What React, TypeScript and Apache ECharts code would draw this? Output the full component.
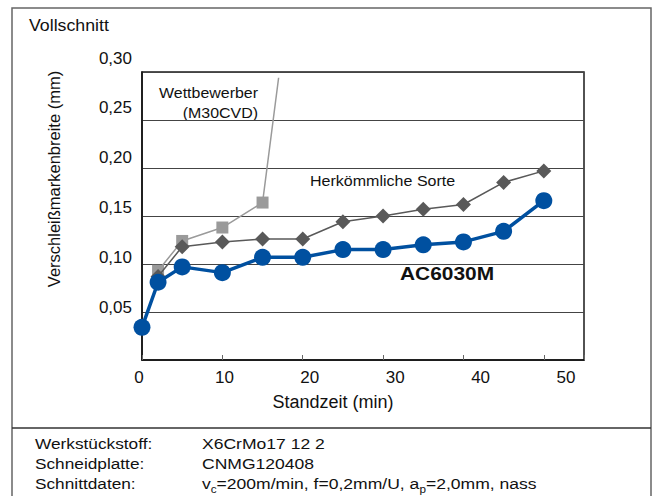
import React, { useEffect, useRef } from "react";
import * as echarts from "echarts";

const FONT = "'Liberation Sans', Arial, Helvetica, sans-serif";

const timesAC = [0, 2, 5, 10, 15, 20, 25, 30, 35, 40, 45, 50];
const wearAC = [0.034, 0.081, 0.097, 0.091, 0.107, 0.107, 0.115, 0.115, 0.12, 0.123, 0.134, 0.166];

const timesHerk = [2, 5, 10, 15, 20, 25, 30, 35, 40, 45, 50];
const wearHerk = [0.087, 0.118, 0.123, 0.126, 0.126, 0.144, 0.15, 0.157, 0.162, 0.185, 0.197];

const timesWett = [2, 5, 10, 15, 17];
const wearWett = [0.093, 0.124, 0.138, 0.164, 0.294];

const xTicks = [0, 10, 20, 30, 40, 50];
const yTicks = [0.05, 0.1, 0.15, 0.2, 0.25, 0.3];

const infoLabels = ["Werkstückstoff:", "Schneidplatte:", "Schnittdaten:"];
const infoValues = ["X6CrMo17 12 2", "CNMG120408"];

export default function App() {
  const ref = useRef<HTMLDivElement>(null);

  useEffect(() => {
    if (!ref.current) return;
    const chart = echarts.init(ref.current, null, { renderer: "svg" });

    const pairs = (xs: number[], ys: number[]) => xs.map((x, i) => [x, ys[i]]);
    const wettData: any[] = pairs(timesWett, wearWett).map((p, i, arr) =>
      i === arr.length - 1 ? { value: p, symbol: "none" } : p
    );

    const textStyleBase = { fontFamily: FONT, fill: "#111" };
    const rowY = [443, 463, 483];

    const option: any = {
      animation: false,
      backgroundColor: "#fff",
      grid: [
        {
          left: 142,
          top: 72,
          width: 442,
          height: 288,
          show: true,
          borderColor: "#1a1a1a",
          borderWidth: 1.5,
          backgroundColor: "transparent",
          outerBoundsMode: "none",
        },
        {
          left: 139,
          top: 58,
          width: 427,
          height: 299,
          show: false,
          outerBoundsMode: "none",
        },
      ],
      xAxis: [
        {
          gridIndex: 0,
          type: "value",
          min: 0,
          max: 55,
          interval: 10,
          axisLine: { show: true, lineStyle: { color: "#111", width: 1.5 } },
          axisTick: { show: true, inside: true, length: 5, lineStyle: { color: "#666", width: 1 } },
          axisLabel: { show: false },
          splitLine: { show: false },
        },
        {
          gridIndex: 1,
          type: "value",
          min: 0,
          max: 50,
          interval: 10,
          axisLine: { show: false },
          axisTick: { show: false },
          splitLine: { show: false },
          axisLabel: {
            show: true,
            fontSize: 17,
            fontFamily: FONT,
            color: "#111",
            margin: 12,
            customValues: xTicks,
          },
          name: "Standzeit (min)",
          nameLocation: "middle",
          nameGap: 36,
          nameMoveOverlap: false,
          nameTextStyle: {
            fontSize: 18,
            fontFamily: FONT,
            color: "#111",
            padding: [0, 39, 0, 0],
          },
        },
      ],
      yAxis: [
        {
          gridIndex: 0,
          type: "value",
          min: 0,
          max: 0.3,
          interval: 0.05,
          axisLine: { show: true, lineStyle: { color: "#111", width: 1.5 } },
          axisTick: { show: false },
          axisLabel: { show: false },
          splitLine: { show: true, lineStyle: { color: "#444", width: 1 } },
        },
        {
          gridIndex: 1,
          type: "value",
          min: 0,
          max: 0.3,
          interval: 0.05,
          axisLine: { show: false },
          axisTick: { show: false },
          splitLine: { show: false },
          axisLabel: {
            show: true,
            fontSize: 17,
            fontFamily: FONT,
            color: "#111",
            margin: 7,
            customValues: yTicks,
            formatter: (v: number) => v.toFixed(2).replace(".", ","),
          },
          name: "Verschleißmarkenbreite (mm)",
          nameLocation: "middle",
          nameGap: 77,
          nameMoveOverlap: false,
          nameTextStyle: {
            fontSize: 16.5,
            fontFamily: FONT,
            color: "#111",
            padding: [0, 0, 0, 57],
          },
        },
      ],
      series: [
        {
          name: "Wettbewerber (M30CVD)",
          type: "line",
          xAxisIndex: 0,
          yAxisIndex: 0,
          data: wettData,
          symbol: "rect",
          symbolSize: 12,
          color: "#9a9a9a",
          itemStyle: { color: "#9a9a9a" },
          lineStyle: { color: "#9a9a9a", width: 1.5 },
          z: 2,
        },
        {
          name: "Herkömmliche Sorte",
          type: "line",
          xAxisIndex: 0,
          yAxisIndex: 0,
          data: pairs(timesHerk, wearHerk),
          symbol: "diamond",
          symbolSize: 15,
          color: "#595959",
          itemStyle: { color: "#595959" },
          lineStyle: { color: "#595959", width: 1.5 },
          z: 3,
        },
        {
          name: "AC6030M",
          type: "line",
          xAxisIndex: 0,
          yAxisIndex: 0,
          data: pairs(timesAC, wearAC),
          symbol: "circle",
          symbolSize: 17,
          color: "#0050a0",
          itemStyle: { color: "#0050a0" },
          lineStyle: { color: "#0050a0", width: 3.5 },
          z: 4,
        },
      ],
      graphic: [
        {
          type: "rect",
          shape: { x: 12, y: 8, width: 639, height: 520 },
          style: { fill: "none", stroke: "#666", lineWidth: 1.5 },
          silent: true,
          z: 0,
        },
        {
          type: "line",
          shape: { x1: 12, y1: 428, x2: 651, y2: 428 },
          style: { stroke: "#333", lineWidth: 1.5 },
          silent: true,
        },
        {
          type: "text",
          x: 29,
          y: 26,
          scaleX: 1.11,
          style: { ...textStyleBase, text: "Vollschnitt", fontSize: 16, verticalAlign: "middle" },
        },
        {
          type: "text",
          x: 258,
          y: 93,
          scaleX: 1.1,
          style: { ...textStyleBase, text: "Wettbewerber", fontSize: 14.5, align: "right", verticalAlign: "middle" },
        },
        {
          type: "text",
          x: 258,
          y: 113,
          scaleX: 1.1,
          style: { ...textStyleBase, text: "(M30CVD)", fontSize: 14.5, align: "right", verticalAlign: "middle" },
        },
        {
          type: "text",
          x: 310,
          y: 181,
          scaleX: 1.07,
          style: { ...textStyleBase, text: "Herkömmliche Sorte", fontSize: 15, verticalAlign: "middle" },
        },
        {
          type: "text",
          x: 400,
          y: 273,
          scaleX: 1.1,
          style: { ...textStyleBase, text: "AC6030M", fontSize: 19, fontWeight: "bold", verticalAlign: "middle" },
        },
        ...infoLabels.map((t, i) => ({
          type: "text",
          x: 35,
          y: rowY[i],
          scaleX: 1.15,
          style: { ...textStyleBase, text: t, fontSize: 15, verticalAlign: "middle" },
        })),
        ...infoValues.map((t, i) => ({
          type: "text",
          x: 202,
          y: rowY[i],
          scaleX: 1.17,
          style: { ...textStyleBase, text: t, fontSize: 15, verticalAlign: "middle" },
        })),
        {
          type: "text",
          x: 202,
          y: rowY[2],
          scaleX: 1.17,
          style: {
            text: "{n|v}{s|c}{n|=200m/min, f=0,2mm/U, a}{s|p}{n|=2,0mm, nass}",
            verticalAlign: "middle",
            rich: {
              n: { fontSize: 15, fontFamily: FONT, fill: "#111", color: "#111", lineHeight: 22 },
              s: { fontSize: 10, fontFamily: FONT, fill: "#111", color: "#111", lineHeight: 10, verticalAlign: "bottom" },
            },
          },
        },
      ],
    };

    chart.setOption(option);
    return () => chart.dispose();
  }, []);

  return (
    <div
      ref={ref}
      style={{ position: "absolute", left: 0, top: 0, width: 654, height: 496 }}
    />
  );
}
